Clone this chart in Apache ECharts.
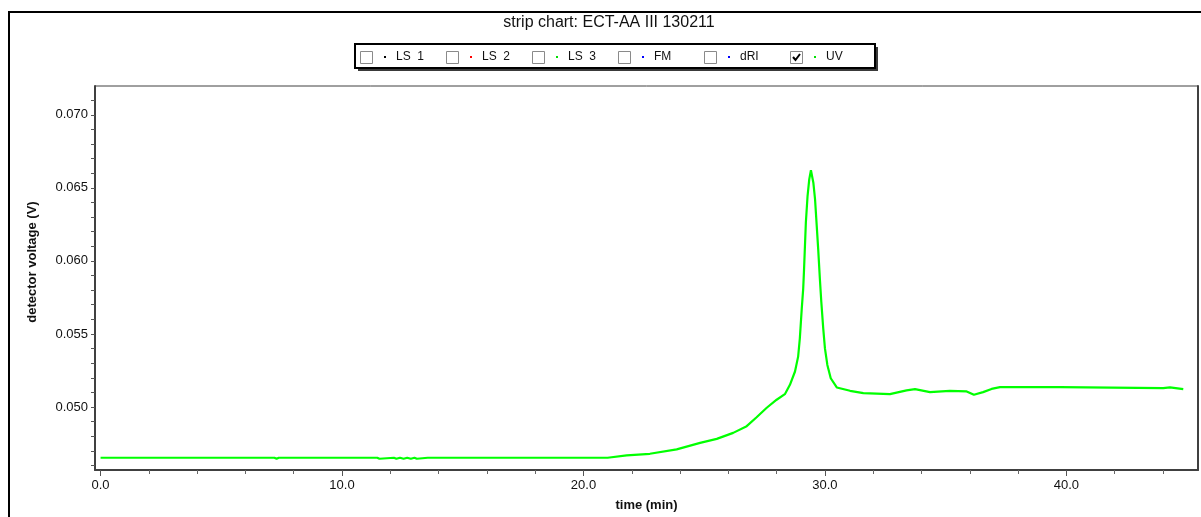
<!DOCTYPE html>
<html>
<head>
<meta charset="utf-8">
<title>strip chart: ECT-AA III 130211</title>
<script src="https://cdn.jsdelivr.net/npm/echarts@6/dist/echarts.min.js"></script>
<style>
  html, body { margin: 0; padding: 0; background: #fff; }
  #chart { width: 1201px; height: 517px; }
</style>
</head>
<body>
<div id="chart"></div>
<script>
// UV detector trace: elution time (min) and detector voltage (V)
const timeMin = [
  0.0, 2.80, 2.88, 2.96, 7.20, 7.29, 7.38, 9.35, 9.42, 9.50, 10.35, 10.40, 10.46,
  11.30, 11.38, 11.46, 11.55, 11.62, 12.15, 12.25, 12.40, 12.55, 12.70, 12.85, 13.00, 13.10,
  13.55, 13.62, 13.70, 21.0,
  21.79, 22.75, 23.86, 24.83, 25.52, 26.20, 26.76, 27.17, 27.59, 28.00, 28.34,
  28.55, 28.76, 28.89, 28.96, 29.04, 29.10, 29.13, 29.17, 29.21, 29.28, 29.35,
  29.42,
  29.52, 29.59, 29.66, 29.72, 29.79, 29.85, 29.93, 30.00, 30.10, 30.24, 30.49,
  31.04, 31.59, 32.69, 33.38, 33.73, 34.35, 35.17, 35.87, 36.17, 36.55, 36.90,
  37.25, 39.73, 39.80, 44.01, 44.29, 44.84
];
const uvVolts = [
  0.04653, 0.04653, 0.04646, 0.04653, 0.04653, 0.04646, 0.04653, 0.04653, 0.04646, 0.04653, 0.04653, 0.04646, 0.04653,
  0.04653, 0.04646, 0.04653, 0.04646, 0.04653, 0.04653, 0.04646, 0.04653, 0.04646, 0.04653, 0.04646, 0.04653, 0.04646,
  0.04653, 0.04646, 0.04653, 0.04653,
  0.04669, 0.04680, 0.04710, 0.04755, 0.04782, 0.04823, 0.04869, 0.04930, 0.04995, 0.05050, 0.05088,
  0.05152, 0.05243, 0.05345, 0.05469, 0.05673, 0.05810, 0.05923, 0.06093, 0.06263, 0.06444, 0.06558,
  0.06621,
  0.06535, 0.06422, 0.06240, 0.06082, 0.05878, 0.05719, 0.05537, 0.05401, 0.05288, 0.05197, 0.05134,
  0.05111, 0.05095, 0.05088, 0.05114, 0.05122, 0.05102, 0.05111, 0.05107, 0.05084, 0.05102, 0.05124,
  0.05136, 0.05136, 0.05129, 0.05129, 0.05134, 0.05122
];

// axis ticks and labels
const xLabelValues = [0, 10, 20, 30, 40];
const xMinorTicks = [2, 4, 6, 8, 12, 14, 16, 18, 22, 24, 26, 28, 32, 34, 36, 38, 42, 44];
const yLabelValues = [0.050, 0.055, 0.060, 0.065, 0.070];
const yTickValues = [0.046, 0.047, 0.048, 0.049, 0.050, 0.051, 0.052, 0.053, 0.054, 0.055,
  0.056, 0.057, 0.058, 0.059, 0.060, 0.061, 0.062, 0.063, 0.064, 0.065,
  0.066, 0.067, 0.068, 0.069, 0.070, 0.071];

// detector channels shown in the header box
const channelNames = ['LS  1', 'LS  2', 'LS  3', 'FM', 'dRI', 'UV'];
const channelChecked = [false, false, false, false, false, true];

const channelColors = ['#000000', '#ff0000', '#00e000', '#0000ff', '#0000ff', '#00e000'];
const FONT = '"Liberation Sans", Arial, sans-serif';
const X_MIN = -0.23, X_MAX = 45.45;
const Y_MIN = 0.04569, Y_MAX = 0.07197;

const seriesData = timeMin.map((t, i) => [t, uvVolts[i]]);

// header box with channel check boxes (drop shadow drawn as an offset block)
const headerItems = [
  { type: 'rect', shape: { x: 358, y: 47, width: 520, height: 24 }, style: { fill: '#3a3a3a' } },
  { type: 'rect', shape: { x: 355, y: 44, width: 520, height: 24 },
    style: { fill: '#fff', stroke: '#000', lineWidth: 2 } }
];
channelNames.forEach((name, i) => {
  const x0 = 360 + i * 86;
  headerItems.push({ type: 'rect', shape: { x: x0 + 0.5, y: 51.5, width: 12, height: 12 },
    style: { fill: '#fff', stroke: '#8a8a8a', lineWidth: 1 } });
  if (channelChecked[i]) {
    headerItems.push({ type: 'polyline', shape: { points: [[x0 + 3, 57], [x0 + 5.5, 60], [x0 + 10, 54]] },
      style: { stroke: '#000', lineWidth: 2, fill: null } });
  }
  headerItems.push({ type: 'rect', shape: { x: x0 + 24, y: 56, width: 2, height: 2 },
    style: { fill: channelColors[i] } });
  headerItems.push({ type: 'text', x: x0 + 36, y: 57,
    style: { text: name, font: '12px ' + FONT, fill: '#111', textVerticalAlign: 'middle' } });
});

const chart = echarts.init(document.getElementById('chart'), null, { renderer: 'canvas' });
chart.setOption({
  backgroundColor: '#ffffff',
  animation: false,
  grid: {
    left: 95, top: 86, width: 1103, height: 386,
    show: true, borderColor: '#404040', borderWidth: 1, backgroundColor: 'transparent'
  },
  xAxis: [
    {
      type: 'value', min: X_MIN, max: X_MAX,
      name: 'time (min)', nameLocation: 'middle', nameGap: 29,
      nameTextStyle: { fontFamily: FONT, fontSize: 13, fontWeight: 'bold', color: '#111' },
      axisLine: { show: true, onZero: false, lineStyle: { color: '#404040', width: 2 } },
      axisTick: { show: true, length: 6, customValues: xLabelValues, lineStyle: { color: '#555' } },
      axisLabel: { customValues: xLabelValues, margin: 9, formatter: v => v.toFixed(1),
        fontFamily: FONT, fontSize: 13, color: '#111' },
      splitLine: { show: false }
    },
    {
      type: 'value', min: X_MIN, max: X_MAX, position: 'bottom',
      axisLine: { show: false },
      axisTick: { show: true, length: 4, customValues: xMinorTicks, lineStyle: { color: '#666' } },
      axisLabel: { show: false },
      splitLine: { show: false }
    }
  ],
  yAxis: [
    {
      type: 'value', min: Y_MIN, max: Y_MAX,
      axisLine: { show: true, onZero: false, lineStyle: { color: '#404040', width: 2 } },
      axisTick: { show: true, length: 4, customValues: yTickValues, lineStyle: { color: '#555' } },
      axisLabel: { customValues: yLabelValues, margin: 7, formatter: v => v.toFixed(3),
        fontFamily: FONT, fontSize: 13, color: '#111' },
      splitLine: { show: false }
    },
    {
      type: 'value', min: Y_MIN, max: Y_MAX, position: 'right',
      axisLine: { show: true, onZero: false, lineStyle: { color: '#404040', width: 2 } },
      axisTick: { show: false }, axisLabel: { show: false }, splitLine: { show: false }
    }
  ],
  graphic: [
    { type: 'rect', silent: true, shape: { x: 9, y: 12, width: 1210, height: 530 },
      style: { fill: null, stroke: '#000', lineWidth: 2 } },
    { type: 'text', x: 609, y: 23,
      style: { text: 'strip chart: ECT-AA III 130211', font: '16px ' + FONT, fill: '#111',
        textAlign: 'center', textVerticalAlign: 'middle' } },
    { type: 'text', x: 32, y: 262, rotation: Math.PI / 2,
      style: { text: 'detector voltage (V)', font: 'bold 13px ' + FONT, fill: '#111',
        textAlign: 'center', textVerticalAlign: 'middle' } },
    { type: 'group', children: headerItems }
  ],
  series: [{
    name: 'UV', type: 'line', xAxisIndex: 0, yAxisIndex: 0,
    data: seriesData, showSymbol: false, smooth: false,
    lineStyle: { color: '#00ff00', width: 2.2 },
    clip: true
  }]
});
</script>
</body>
</html>
